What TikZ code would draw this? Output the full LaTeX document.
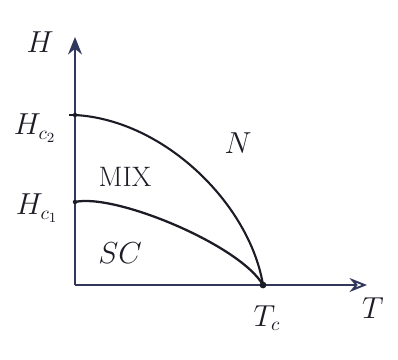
\documentclass[tikz,border=0pt]{standalone}
\usepackage{amsmath}
\usetikzlibrary{arrows.meta}
\definecolor{axisink}{RGB}{50,56,92}
\definecolor{penink}{RGB}{28,28,38}
\tikzstyle{pt}=[shape=circle, minimum size=1.5mm, inner sep=0, fill=penink]
\tikzstyle{lbl}=[inner sep=1pt, text=penink, font=\fontsize{16}{18}\selectfont]

\begin{document}
\begin{tikzpicture}[x=0.02cm, y=0.02cm]
\useasboundingbox (-75,-74) rectangle (323,285);
% axes
\coordinate (O) at (0,0);
\coordinate (Htop) at (0,248);
\coordinate (Tend) at (292,0);
\draw[axisink, line width=1.1pt, -{Stealth[length=3.5mm, width=2.8mm]}] (O)--(Htop);
\draw[axisink, line width=1.1pt, -{Stealth[length=3.5mm, width=2.8mm, open]}] (O)--(Tend);
% critical points
\node at (0,170)[pt, scale=.6](hc2){};
\node at (0,83)[pt, scale=.6](hc1){};
\node at (188,0)[pt, scale=.9](tc){};
\draw[penink, line width=1pt] (hc2.center)--++(-6,0);
% phase boundaries
\draw[penink, line width=1.2pt] (hc2.center) .. controls (90,165) and (175,80) .. (tc.center);
\draw[penink, line width=1.3pt] (hc1.center) .. controls (40,92) and (165,40) .. (tc.center);
% labels
\node at (-35,243)[lbl](hlab){$H$};
\node at (-40,157)[lbl](hc2lab){$H_{c_2}$};
\node at (-38,77)[lbl](hc1lab){$H_{c_1}$};
\node at (163,142)[lbl](nlab){$N$};
\node at (50,108)[lbl](mixlab){MIX};
\node at (45,32)[lbl](sclab){$SC$};
\node at (192,-33)[lbl](tclab){$T_c$};
\node at (298,-23)[lbl](tlab){$T$};
\end{tikzpicture}
\end{document}
